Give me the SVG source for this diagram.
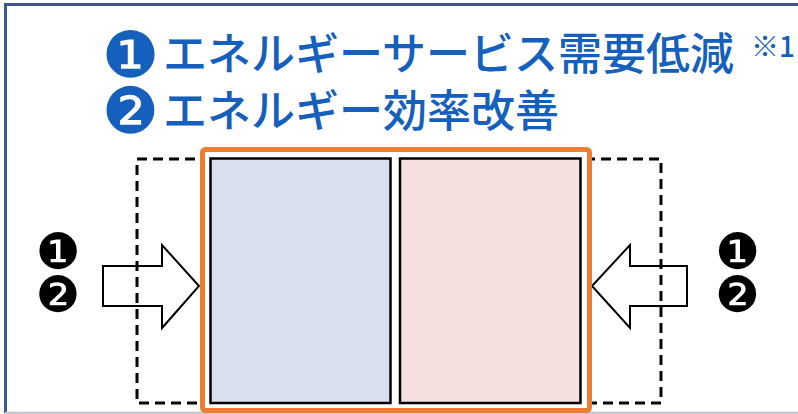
<svg xmlns="http://www.w3.org/2000/svg" width="798" height="414" viewBox="0 0 798 414">
<style>
.ttl{font-family:"Noto Sans CJK JP","Noto Sans",sans-serif;fill:#1560BD;font-size:44px;font-weight:500}
.cir{font-family:"DejaVu Sans",sans-serif;text-anchor:middle}
.num{fill:#000;font-size:50px}
.big{fill:#1560BD;font-size:64px}
.arrow{fill:#fff;stroke:#000;stroke-width:2;stroke-linejoin:miter}
.inner{stroke:#000;stroke-width:2.5}
</style>
<rect width="798" height="414" fill="#fff"/>
<g id="frame">
<path d="M5.5,413 V4.5 H798" fill="none" stroke="#3F5790" stroke-width="3"/>
<line x1="5" y1="412.8" x2="798" y2="412.8" stroke="#BFC3CC" stroke-width="2"/>
</g>
<g id="title">
<text class="cir big" x="130.5" y="76.5">❶</text>
<text class="ttl" x="163" y="70">エネルギーサービス需要低減</text>
<text class="ttl" x="751" y="57" style="font-size:28px">※1</text>
<text class="cir big" x="130.5" y="133">❷</text>
<text class="ttl" x="163" y="127">エネルギー効率改善</text>
</g>
<g id="connectors">
<polygon id="arrow-left" class="arrow" points="103,266 162,266 162,245 199,286 162,328 162,306 103,306"/>
<polygon id="arrow-right" class="arrow" points="687,266 630,266 630,245 592,286 630,328 630,306 687,306"/>
</g>
<g id="boundary">
<rect x="137" y="159" width="524" height="244" fill="none" stroke="#000" stroke-width="3" stroke-dasharray="10 6"/>
</g>
<g id="system">
<rect x="202.5" y="149.5" width="387" height="261" rx="3" fill="#fff" stroke="#ED7D31" stroke-width="5"/>
</g>
<g id="node-left">
<rect class="inner" x="210.5" y="158.5" width="180" height="244.5" fill="#D9DFEF"/>
</g>
<g id="node-right">
<rect class="inner" x="400" y="158.5" width="180.5" height="244.5" fill="#F5E0DE"/>
</g>
<g id="label-left">
<text class="cir num" x="58" y="269">❶</text>
<text class="cir num" x="58" y="311.5">❷</text>
</g>
<g id="label-right">
<text class="cir num" x="737.5" y="269">❶</text>
<text class="cir num" x="737.5" y="311.5">❷</text>
</g>
</svg>
